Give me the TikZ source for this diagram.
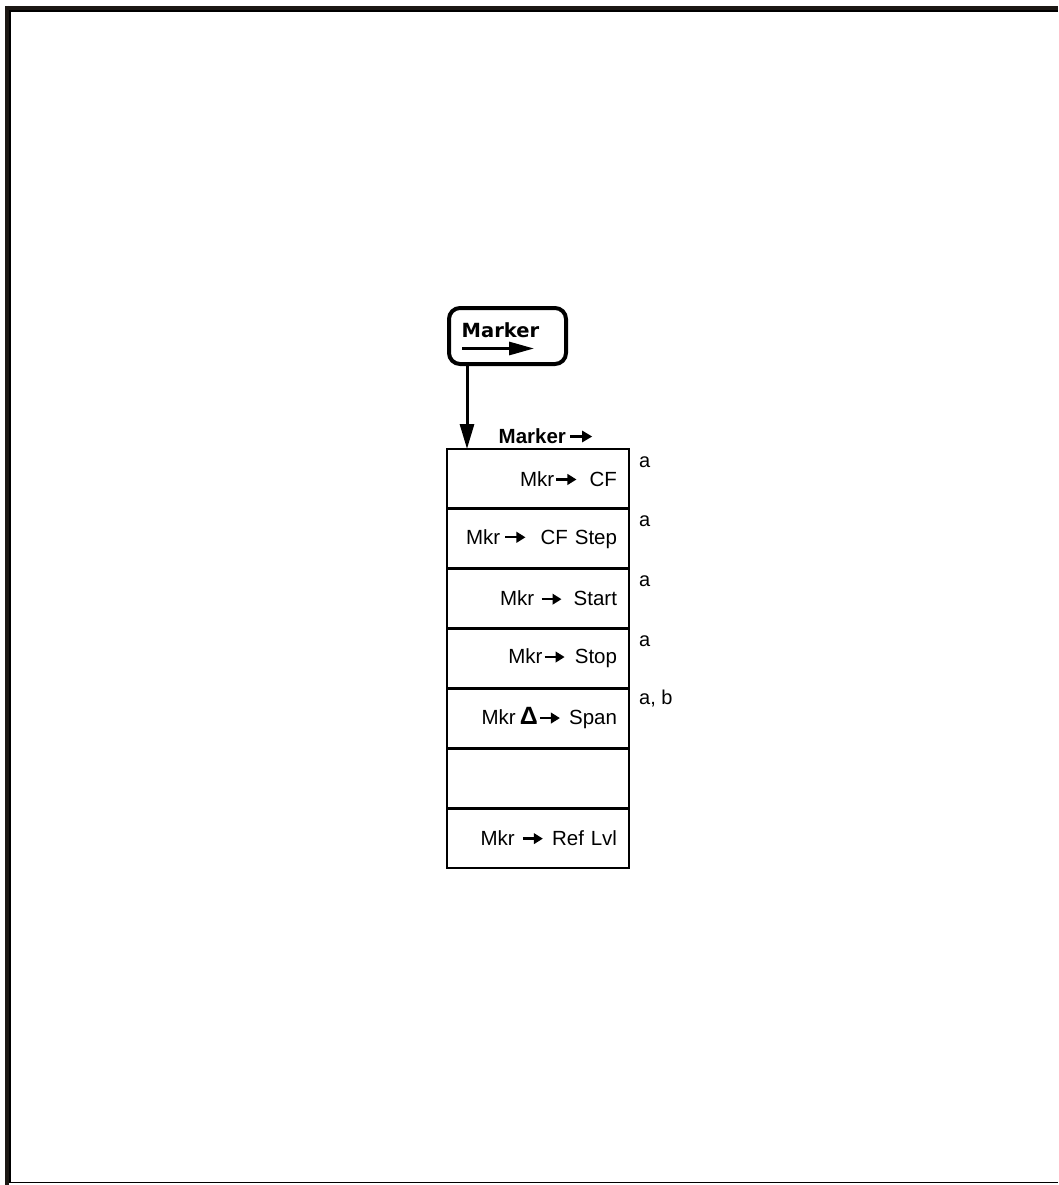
\documentclass[tikz,border=0pt]{standalone}
\usepackage{fontspec}
\setmainfont{Liberation Sans}
\newfontfamily\keyfont{DejaVu Sans}
\usetikzlibrary{arrows.meta}
\newcommand{\rarr}{\tikz[baseline=0pt,x=1pt,y=1pt]\draw[black,line width=2.4pt,-{Triangle[length=9pt,width=10.5pt]}] (0,6.8) -- (20,6.8);}
\definecolor{frame}{HTML}{1C1814}
\definecolor{shade}{HTML}{A8A8A8}
\tikzset{
  rowbox/.style={draw, line width=2.8pt, outer sep=0pt, minimum width=182pt, minimum height=59.86pt,
     text width=158pt, inner xsep=12pt, inner ysep=0pt, align=right, anchor=north west,
     font=\fontsize{20.5pt}{24pt}\selectfont},
  note/.style={anchor=base west, inner sep=0pt, font=\fontsize{20pt}{24pt}\selectfont},
  conn/.style={line width=3pt, -{Triangle[length=25pt,width=14pt]}},
}
\begin{document}
\begin{tikzpicture}[x=1pt,y=-1pt]
\useasboundingbox (0,0) rectangle (1058,1185);
% frame
\draw[shade, line width=1.5pt] (9,11) -- (1058,11);
\draw[shade, line width=1.5pt] (10,11) -- (10,1182);
\draw[shade, line width=1.5pt] (9,1182.5) -- (1058,1182.5);
\draw[frame, line width=4pt] (7,8) -- (1058,8);
\draw[frame, line width=4pt] (7,6) -- (7,1185);
% key
\node[draw, line width=4pt, outer sep=0pt, rounded corners=11pt, minimum width=117pt, minimum height=56pt] (key) at (507.5,336) {};
\node[anchor=base west, inner sep=0pt, font=\fontsize{19.5pt}{23pt}\keyfont\bfseries] (keytxt) at (461.5,337) {Marker};
\coordinate (ka) at (462,348.5);
\coordinate (kb) at (534,348.5);
\draw[line width=3pt, -{Triangle[length=25pt,width=13pt]}] (ka) -- (kb);
% menu title
\node[anchor=base west, inner sep=0pt, font=\fontsize{20.5pt}{24pt}\selectfont\bfseries] (title) at (498.5,443) {Marker\hspace{3pt}\tikz[baseline=0pt,x=1pt,y=1pt]\draw[black,line width=2.6pt,-{Triangle[length=10pt,width=11pt]}] (0,6.5) -- (22,6.5);};
% rows
\node[rowbox] (r1) at (447,449) {Mkr\hspace{1pt}\rarr\hspace{12pt}CF};
\node[rowbox] (r2) at (r1.south west) {Mkr\hspace{4pt}\rarr\hspace{14pt}CF Step};
\node[rowbox] (r3) at (r2.south west) {Mkr\hspace{6pt}\rarr\hspace{11pt}Start};
\node[rowbox] (r4) at (r3.south west) {Mkr\hspace{1pt}\rarr\hspace{9pt}Stop};
\node[rowbox] (r5) at (r4.south west) {Mkr\hspace{4pt}{\fontsize{25pt}{24pt}\selectfont\bfseries Δ}\hspace{1pt}\rarr\hspace{8pt}Span};
\node[rowbox] (r6) at (r5.south west) {};
\node[rowbox] (r7) at (r6.south west) {Mkr\hspace{7pt}\rarr\hspace{8pt}Ref Lvl};
% notes
\node[note] (n1) at ([xshift=10pt,yshift=-18pt]r1.north east) {a};
\node[note] (n2) at ([xshift=10pt,yshift=-18pt]r2.north east) {a};
\node[note] (n3) at ([xshift=10pt,yshift=-18pt]r3.north east) {a};
\node[note] (n4) at ([xshift=10pt,yshift=-18pt]r4.north east) {a};
\node[note] (n5) at ([xshift=10pt,yshift=-16pt]r5.north east) {a, b};
% connector
\coordinate (c1) at (key.south -| 467,0);
\draw[conn] (c1) -- (c1 |- r1.north);
\end{tikzpicture}
\end{document}
